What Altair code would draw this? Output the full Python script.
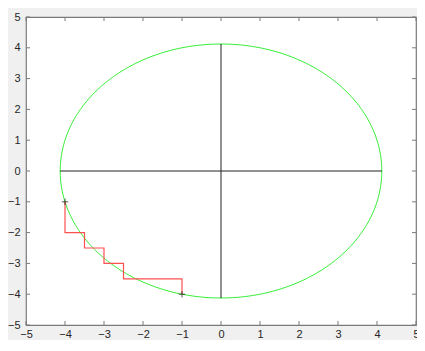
import altair as alt
import pandas as pd

# data
radius = [17 ** 0.5]
axis_ticks = [-5, -4, -3, -2, -1, 0, 1, 2, 3, 4, 5]
stair_x = [-4, -4, -3.5, -3.5, -3, -3, -2.5, -2.5, -1, -1]
stair_y = [-1, -2, -2, -2.5, -2.5, -3, -3, -3.5, -3.5, -4]
marker_x = [-4, -1]
marker_y = [-1, -4]

r = radius[0]
W, H = 390, 308
xs = alt.Scale(domain=[-5, 5], nice=False, zero=False)
ys = alt.Scale(domain=[-5, 5], nice=False, zero=False)

tick_df = pd.DataFrame({"t": axis_ticks})
stair_df = pd.DataFrame({"x": stair_x, "y": stair_y, "o": list(range(len(stair_x)))})
mark_df = pd.DataFrame({"x": marker_x, "y": marker_y})
cross_df = pd.DataFrame({"x": [-r, r, 0, 0], "y": [0, 0, -r, r], "g": ["h", "h", "v", "v"]})

label_font = "Arial, Liberation Sans"

xaxis = alt.Axis(values=axis_ticks, ticks=False, domain=False, grid=False, title=None,
                 labelPadding=3, labelFontSize=11, labelColor="#262626",
                 labelFont=label_font, labelOverlap=False, labelFlush=False)
yaxis = alt.Axis(values=axis_ticks, ticks=False, domain=False, grid=False, title=None,
                 labelPadding=6, labelFontSize=11, labelColor="#262626",
                 labelFont=label_font, labelOverlap=False, labelFlush=False)


def X(f):
    return alt.X(f, scale=xs, axis=xaxis, title=None)


def Y(f):
    return alt.Y(f, scale=ys, axis=yaxis, title=None)


circle = alt.Chart(alt.sequence(0, 361, 1, as_="deg")).transform_calculate(
    cx=f"{r} * cos(datum.deg * PI / 180)",
    cy=f"{r} * sin(datum.deg * PI / 180)",
).mark_line(color="#33ee33", strokeWidth=1).encode(
    x=X("cx:Q"), y=Y("cy:Q"), order="deg:Q"
)

cross = alt.Chart(cross_df).mark_line(color="#222222", strokeWidth=1).encode(
    x=X("x:Q"), y=Y("y:Q"), detail="g:N"
)

stairs = alt.Chart(stair_df).mark_line(color="#ff5050", strokeWidth=1.2).encode(
    x=X("x:Q"), y=Y("y:Q"), order="o:Q"
)

markers = alt.Chart(mark_df).mark_point(
    shape="M -1 0 L 1 0 M 0 -1 L 0 1", size=40, color="#111111", strokeWidth=1, filled=False
).encode(x=X("x:Q"), y=Y("y:Q"))

tl = 4
tick_color = "#7a7a7a"
bottom_ticks = alt.Chart(tick_df).mark_rule(color=tick_color, strokeWidth=1).encode(
    x=X("t:Q"), y=alt.value(H), y2=alt.value(H - tl))
top_ticks = alt.Chart(tick_df).mark_rule(color=tick_color, strokeWidth=1).encode(
    x=X("t:Q"), y=alt.value(0), y2=alt.value(tl))
left_ticks = alt.Chart(tick_df).mark_rule(color=tick_color, strokeWidth=1).encode(
    y=Y("t:Q"), x=alt.value(0), x2=alt.value(tl))
right_ticks = alt.Chart(tick_df).mark_rule(color=tick_color, strokeWidth=1).encode(
    y=Y("t:Q"), x=alt.value(W), x2=alt.value(W - tl))

chart = alt.layer(
    circle, cross, stairs, markers,
    bottom_ticks, top_ticks, left_ticks, right_ticks
).properties(
    width=W, height=H,
    autosize=alt.AutoSizeParams(type="none"),
    padding={"left": 18, "top": 9, "right": 1, "bottom": 15},
    background="#f0f0f0",
).configure_view(
    stroke="#7a7a7a", strokeWidth=1.2, fill="white"
).configure_axis(
    labelOverlap=False, labelFlush=False
)

chart.save("out.html", embed_options={"renderer": "svg", "actions": False})
